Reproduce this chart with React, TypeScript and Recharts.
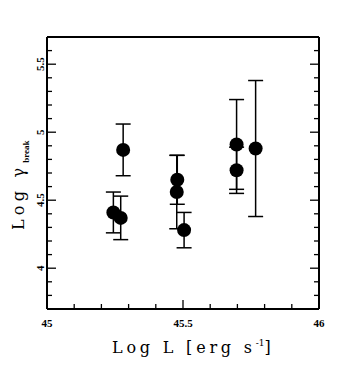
import React from 'react';
import { ScatterChart, Scatter, XAxis, YAxis, ErrorBar, Customized } from 'recharts';

const logL = [45.28, 45.244, 45.271, 45.479, 45.477, 45.504, 45.697, 45.697, 45.767];
const logGamma = [4.87, 4.41, 4.37, 4.65, 4.56, 4.28, 4.91, 4.72, 4.88];
const gammaErr = [0.19, 0.15, 0.16, 0.18, 0.27, 0.13, 0.33, 0.17, 0.5];

const xTicks = [45, 45.1, 45.2, 45.3, 45.4, 45.5, 45.6, 45.7, 45.8, 45.9, 46];
const yTicks = [3.7, 3.8, 3.9, 4, 4.1, 4.2, 4.3, 4.4, 4.5, 4.6, 4.7, 4.8, 4.9, 5, 5.1, 5.2, 5.3, 5.4, 5.5, 5.6, 5.7];
const xMajor = [45, 45.5, 46];
const yMajor = [4, 4.5, 5, 5.5];

const data = logL.map((x, i) => ({ x, y: logGamma[i], err: gammaErr[i] }));

const isMajor = (v: number, list: number[]) => list.some((m) => Math.abs(m - v) < 1e-6);
const FONT = '"Liberation Serif", "DejaVu Serif", serif';
const TFONT = '"DejaVu Serif", "Liberation Serif", serif';
const MAJ = 9;
const MIN = 5;
const SW = 1.3;

const BottomTick = (p: any) => {
  const { x, y, payload } = p;
  const major = isMajor(payload.value, xMajor);
  return (
    <g>
      <line x1={x} y1={y} x2={x} y2={y - (major ? MAJ : MIN)} stroke="#000" strokeWidth={SW} />
      {major && (
        <text x={x} y={y + 14} textAnchor="middle" dominantBaseline="central" fontFamily={FONT} fontWeight="bold" fontSize={11} fill="#000">
          {String(payload.value)}
        </text>
      )}
    </g>
  );
};

const TopTick = (p: any) => {
  const { x, y, payload } = p;
  const major = isMajor(payload.value, xMajor);
  return <line x1={x} y1={y} x2={x} y2={y + (major ? MAJ : MIN)} stroke="#000" strokeWidth={SW} />;
};

const LeftTick = (p: any) => {
  const { x, y, payload } = p;
  const major = isMajor(payload.value, yMajor);
  return (
    <g>
      <line x1={x} y1={y} x2={x + (major ? MAJ : MIN)} y2={y} stroke="#000" strokeWidth={SW} />
      {major && (
        <text
          x={x - 7}
          y={y}
          transform={`rotate(-90, ${x - 7}, ${y})`}
          textAnchor="middle"
          dominantBaseline="central"
          fontFamily={FONT}
          fontWeight="bold"
          fontSize={11}
          fill="#000"
        >
          {String(payload.value)}
        </text>
      )}
    </g>
  );
};

const RightTick = (p: any) => {
  const { x, y, payload } = p;
  const major = isMajor(payload.value, yMajor);
  return <line x1={x} y1={y} x2={x - (major ? MAJ : MIN)} y2={y} stroke="#000" strokeWidth={SW} />;
};

const Titles = () => (
  <g>
    <text x={104} y={345} fontFamily={TFONT} fontSize={16} fill="#000">
      <tspan textLength={140} lengthAdjust="spacing">Log L [erg s</tspan>
      <tspan fontSize={9} dy={-7}>-1</tspan>
      <tspan dy={7}>]</tspan>
    </text>
    <text
      x={16}
      y={222}
      transform="rotate(-90, 16, 222)"
      fontFamily={TFONT}
      fontSize={16}
      fill="#000"
    >
      <tspan textLength={62} lengthAdjust="spacing">Log γ</tspan>
      <tspan fontFamily={FONT} fontSize={9} fontWeight="bold" dy={5} dx={1}>break</tspan>
    </text>
  </g>
);

export default function App() {
  return (
    <ScatterChart width={330} height={363} margin={{ top: 28, left: 38, right: 18, bottom: 61 }}>
      <XAxis
        xAxisId="b"
        dataKey="x"
        type="number"
        domain={[45, 46]}
        allowDataOverflow
        ticks={xTicks}
        interval={0}
        height={1}
        tickSize={0}
        tickMargin={0}
        tickLine={false}
        tick={BottomTick}
        axisLine={{ stroke: '#000', strokeWidth: 2 }}
      />
      <XAxis
        xAxisId="t"
        orientation="top"
        type="number"
        domain={[45, 46]}
        allowDataOverflow
        ticks={xTicks}
        interval={0}
        height={1}
        tickSize={0}
        tickMargin={0}
        tickLine={false}
        tick={TopTick}
        axisLine={{ stroke: '#000', strokeWidth: 2 }}
      />
      <YAxis
        yAxisId="l"
        dataKey="y"
        type="number"
        domain={[3.7, 5.7]}
        allowDataOverflow
        ticks={yTicks}
        interval={0}
        width={1}
        tickSize={0}
        tickMargin={0}
        tickLine={false}
        tick={LeftTick}
        axisLine={{ stroke: '#000', strokeWidth: 2 }}
      />
      <YAxis
        yAxisId="r"
        orientation="right"
        type="number"
        domain={[3.7, 5.7]}
        allowDataOverflow
        ticks={yTicks}
        interval={0}
        width={1}
        tickSize={0}
        tickMargin={0}
        tickLine={false}
        tick={RightTick}
        axisLine={{ stroke: '#000', strokeWidth: 2 }}
      />
      <Scatter
        xAxisId="b"
        yAxisId="l"
        data={data}
        isAnimationActive={false}
        fill="#000"
        shape={(p: any) => <circle cx={p.cx} cy={p.cy} r={7} fill="#000" />}
      >
        <ErrorBar dataKey="err" direction="y" width={7.5} stroke="#000" strokeWidth={1.5} isAnimationActive={false} />
      </Scatter>
      <Customized component={Titles} />
    </ScatterChart>
  );
}
